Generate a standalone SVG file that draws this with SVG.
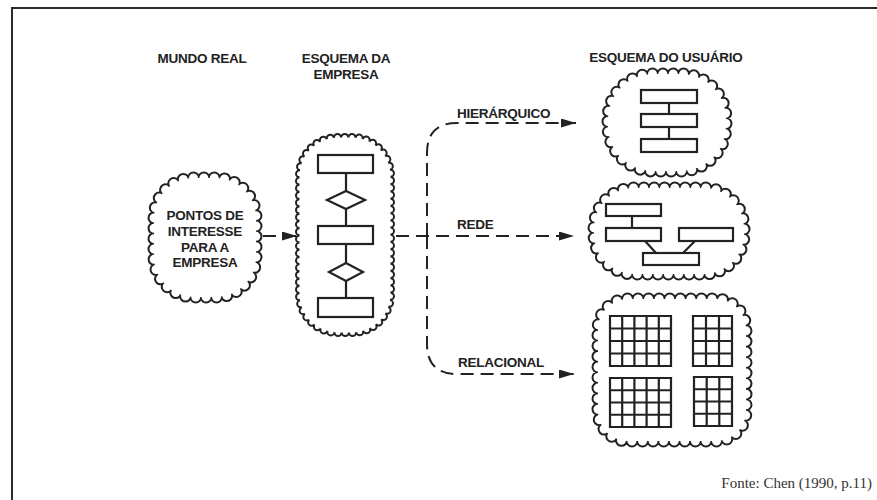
<svg xmlns="http://www.w3.org/2000/svg" width="877" height="500" viewBox="0 0 877 500">
<style>
.lbl{font-family:"Liberation Sans",Arial,sans-serif;font-weight:bold;font-size:13.5px;fill:#222;letter-spacing:-0.25px}
.ink{fill:#fff;stroke:#222;stroke-width:2.2}
.ln{fill:none;stroke:#222;stroke-width:2.2}
.dash{fill:none;stroke:#222;stroke-width:2;stroke-dasharray:13 7}
.cb{fill:none;stroke:#222;stroke-linecap:round;stroke-dasharray:0 1}
.cw{fill:none;stroke:#fff;stroke-linecap:round;stroke-dasharray:0 1}
.cf{fill:#fff;stroke:none}
</style>
<defs>
<marker id="ah" markerUnits="userSpaceOnUse" markerWidth="16" markerHeight="10" refX="15" refY="4.5" orient="auto">
<path d="M0,0 L15,4.5 L0,9 z" fill="#222"/>
</marker>
<path id="s1" pathLength="36" d="M193.5,178 H216.5 A40,40 0 0 1 256,217.5 V257.5 A40,40 0 0 1 216.5,297 H193.5 A40,40 0 0 1 154,257.5 V217.5 A40,40 0 0 1 193.5,178 Z"/>
<path id="s2" pathLength="70" d="M337.5,137.5 H352.5 A38,38 0 0 1 390.5,175.5 V294.5 A38,38 0 0 1 352.5,332.5 H337.5 A38,38 0 0 1 299.5,294.5 V175.5 A38,38 0 0 1 337.5,137.5 Z"/>
<path id="s3" pathLength="34" d="M652.5,74 H681.5 A45,45 0 0 1 726,118.5 V126.5 A45,45 0 0 1 681.5,171 H652.5 A45,45 0 0 1 608,126.5 V118.5 A45,45 0 0 1 652.5,74 Z"/>
<path id="s4" pathLength="39" d="M633.5,188 H704.5 A40,40 0 0 1 744,227.5 V234.5 A40,40 0 0 1 704.5,274 H633.5 A40,40 0 0 1 594,234.5 V227.5 A40,40 0 0 1 633.5,188 Z"/>
<path id="s5" pathLength="50" d="M627.5,299 H716.5 A30,30 0 0 1 746,328.5 V411.5 A30,30 0 0 1 716.5,441 H627.5 A30,30 0 0 1 598,411.5 V328.5 A30,30 0 0 1 627.5,299 Z"/>
</defs>
<rect width="877" height="500" fill="#fff"/>
<path d="M12,500 V8 H877" fill="none" stroke="#2b2b2b" stroke-width="2"/>

<g id="headers">
<text class="lbl" x="202" y="63" text-anchor="middle">MUNDO REAL</text>
<text class="lbl" x="346" y="63" text-anchor="middle">ESQUEMA DA</text>
<text class="lbl" x="346" y="79" text-anchor="middle">EMPRESA</text>
<text class="lbl" x="666" y="62" text-anchor="middle">ESQUEMA DO USUÁRIO</text>
</g>

<g id="connectors">
<path class="dash" d="M263,236 H297" marker-end="url(#ah)"/>
<path class="dash" d="M396,236 H574" marker-end="url(#ah)"/>
<path class="dash" d="M427,236 V153 Q427,123 457,123 H576" marker-end="url(#ah)"/>
<path class="dash" d="M427,236 V344 Q427,374 457,374 H574" marker-end="url(#ah)"/>
<text class="lbl" x="457" y="118">HIERÁRQUICO</text>
<text class="lbl" x="457" y="229">REDE</text>
<text class="lbl" x="458" y="367">RELACIONAL</text>
</g>

<g id="mundo-real">
<use href="#s1" class="cb" stroke-width="13"/>
<use href="#s1" class="cw" stroke-width="9"/>
<use href="#s1" class="cf"/>
<text class="lbl" x="205" y="220" text-anchor="middle">PONTOS DE</text>
<text class="lbl" x="205" y="236" text-anchor="middle">INTERESSE</text>
<text class="lbl" x="205" y="252" text-anchor="middle">PARA A</text>
<text class="lbl" x="205" y="267" text-anchor="middle">EMPRESA</text>
</g>

<g id="esquema-empresa">
<use href="#s2" class="cb" stroke-width="9"/>
<use href="#s2" class="cw" stroke-width="5"/>
<use href="#s2" class="cf"/>
<path class="ln" d="M346,173 V298"/>
<rect class="ink" x="318" y="155" width="55" height="18"/>
<path class="ink" d="M327,200 L346,191 L365,200 L346,209 Z"/>
<rect class="ink" x="318" y="226" width="55" height="18"/>
<path class="ink" d="M329,272 L346,263 L363,272 L346,281 Z"/>
<rect class="ink" x="318" y="298" width="55" height="19"/>
</g>

<g id="hierarquico">
<use href="#s3" class="cb" stroke-width="13"/>
<use href="#s3" class="cw" stroke-width="9"/>
<use href="#s3" class="cf"/>
<path class="ln" d="M669,103 V139"/>
<rect class="ink" x="641" y="90" width="56" height="13"/>
<rect class="ink" x="641" y="114" width="56" height="13"/>
<rect class="ink" x="641" y="139" width="56" height="13"/>
</g>

<g id="rede">
<use href="#s4" class="cb" stroke-width="13"/>
<use href="#s4" class="cw" stroke-width="9"/>
<use href="#s4" class="cf"/>
<path class="ln" stroke-width="1.5" d="M632,216 V228 M645,241 L656,253 M695,241 L683,253"/>
<rect class="ink" x="606" y="204" width="55" height="12"/>
<rect class="ink" x="606" y="228" width="55" height="13"/>
<rect class="ink" x="679" y="228" width="54" height="13"/>
<rect class="ink" x="643" y="253" width="56" height="12"/>
</g>

<g id="relacional">
<use href="#s5" class="cb" stroke-width="13"/>
<use href="#s5" class="cw" stroke-width="9"/>
<use href="#s5" class="cf"/>
<path class="ln" d="M610,316 H671 V366 H610 Z M622.2,316 V366 M634.4,316 V366 M646.6,316 V366 M658.8,316 V366 M610,328.5 H671 M610,341 H671 M610,353.5 H671"/>
<path class="ln" d="M693,316 H732 V366 H693 Z M706,316 V366 M719,316 V366 M693,328.5 H732 M693,341 H732 M693,353.5 H732"/>
<path class="ln" d="M610,378 H671 V427 H610 Z M622.2,378 V427 M634.4,378 V427 M646.6,378 V427 M658.8,378 V427 M610,390.25 H671 M610,402.5 H671 M610,414.75 H671"/>
<path class="ln" d="M694,377 H732 V426 H694 Z M706.7,377 V426 M719.3,377 V426 M694,389.25 H732 M694,401.5 H732 M694,413.75 H732"/>
</g>

<text x="872" y="488" text-anchor="end" font-family="'Liberation Serif','Times New Roman',serif" font-size="15" fill="#333">Fonte: Chen (1990, p.11)</text>
</svg>
